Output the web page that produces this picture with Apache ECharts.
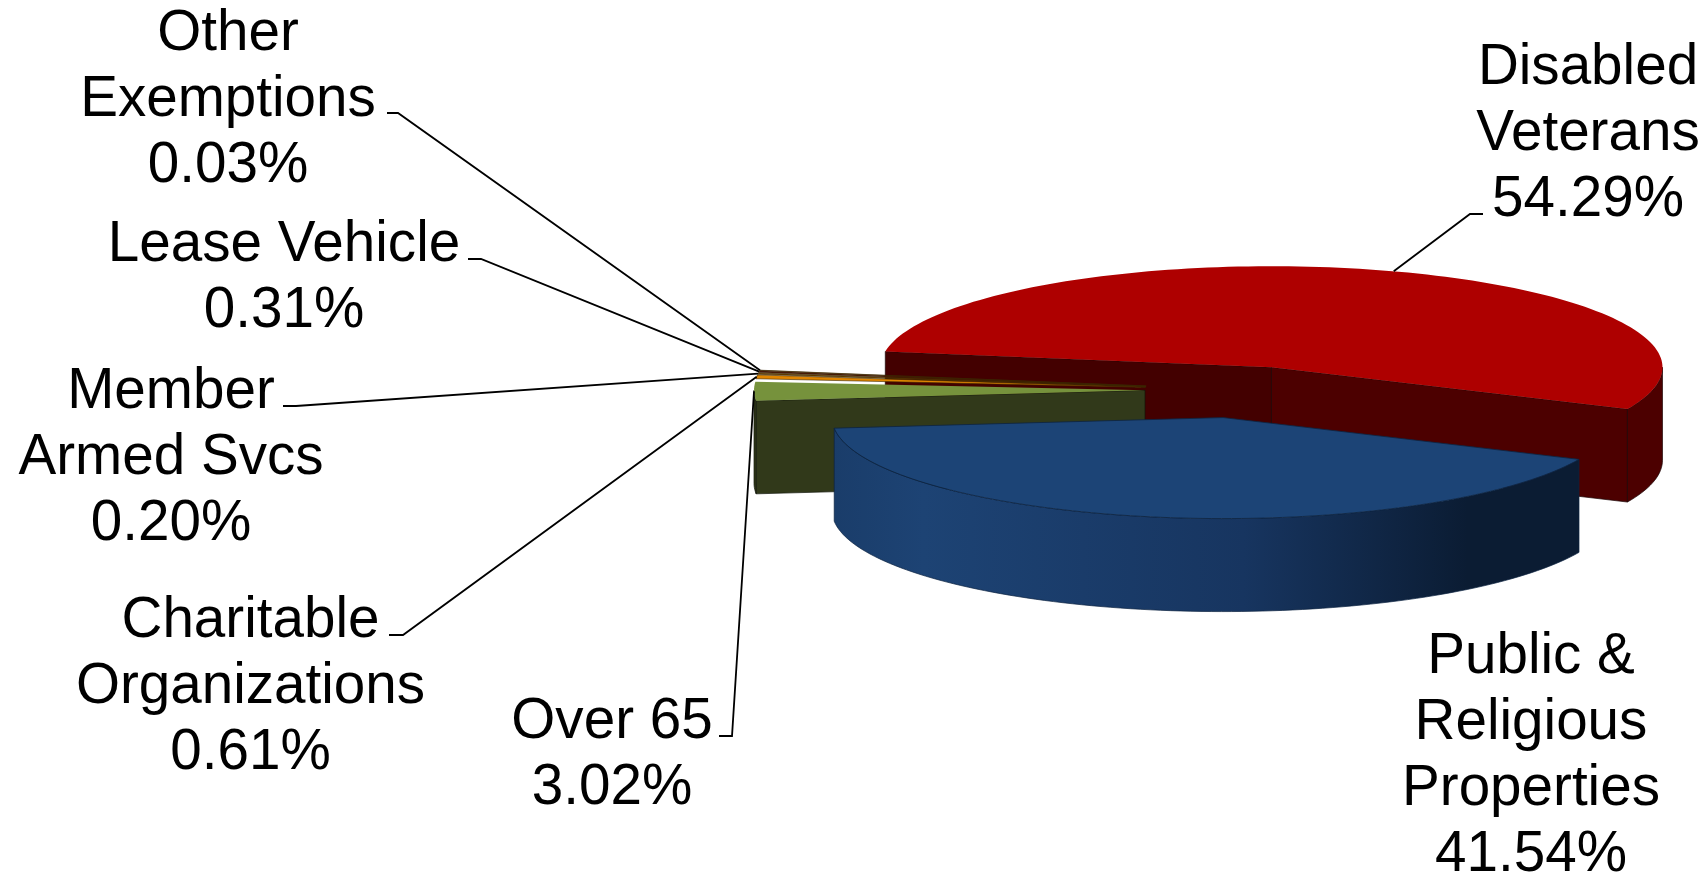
<!DOCTYPE html>
<html><head><meta charset="utf-8">
<style>html,body{margin:0;padding:0;background:#fff;overflow:hidden}#c{width:1708px;height:874px}</style>
<script src="https://cdn.jsdelivr.net/npm/echarts@6/dist/echarts.min.js"></script>
</head><body><div id="c"></div>
<script>
// --- data ---
var categories = ['Disabled\nVeterans', 'Public &\nReligious\nProperties', 'Over 65', 'Charitable\nOrganizations', 'Member\nArmed Svcs', 'Lease Vehicle', 'Other\nExemptions'];
var shares = [54.29, 41.54, 3.02, 0.61, 0.20, 0.31, 0.03];

// --- layout / style (not data) ---
var explode = [92, 109, 100, 100, 100, 100, 100];
var explodeTurn = [0, 2.4, 0, 0, 0, 0, 0];
var drawOrder = [0, 6, 5, 4, 3, 2, 1];
var topColors = ['#ae0000', '#1c4476', '#76923c', '#e08500', '#7a4a00', '#4a1608', '#0f5a1a'];
var startCutColors = ['#430000', '#0b1c33', '#31391a', '#5c3700', '#2c1c00', '#2a0d05', '#0f2d0d'];
var endCutColors = ['#4c0000', '#0b1c33', '#31391a', '#5c3700', '#2c1c00', '#2a0d05', '#0f2d0d'];
var labelX = [1588, 1531, 612, 250.5, 171, 284, 228];
var labelY = [134, 756, 755, 687, 458, 278, 100];
var elbowFrom = [[1483, 214], null, [719, 736], [389, 635], [283, 406], [468, 259], [387, 113]];
var elbowTo = [[1470, 214], null, [732, 736], [403, 635], [296, 406], [481, 259], [398, 113]];
var leaderTurn = [1.5, 0, 0, 0, 0, 0, 0];

var BASE_X = 1245, BASE_Y = 390, RX = 391, RY = 101, DEPTH = 93, START_DEG = -171;
var FONT = '56.6px "Liberation Sans", Arial, sans-serif';

var total = shares.reduce(function (a, b) { return a + b; }, 0);
var startDeg = [], endDeg = [];
shares.reduce(function (acc, v, i) {
  startDeg[i] = START_DEG + acc / total * 360;
  endDeg[i] = START_DEG + (acc + v) / total * 360;
  return acc + v;
}, 0);
function rad(d) { return d * Math.PI / 180; }
function apex(i) {
  var mid = rad((startDeg[i] + endDeg[i]) / 2 + explodeTurn[i]);
  return [BASE_X + explode[i] * Math.cos(mid), BASE_Y + explode[i] * Math.sin(mid) * RY / RX];
}
function rim(i, deg) {
  var a = apex(i);
  return [a[0] + RX * Math.cos(rad(deg)), a[1] + RY * Math.sin(rad(deg))];
}
function arcPts(i, from, to) {
  var n = Math.max(2, Math.ceil(Math.abs(to - from) / 1.5)), pts = [];
  for (var k = 0; k <= n; k++) pts.push(rim(i, from + (to - from) * k / n));
  return pts;
}
function down(p) { return [p[0], p[1] + DEPTH]; }
function poly(points, fill, stroke, lw, z2) {
  return { type: 'polygon', z2: z2, silent: true, shape: { points: points },
    style: { fill: fill, stroke: stroke, lineWidth: lw, lineJoin: 'round' } };
}
function sideFill(i) {
  if (i !== 1) return endCutColors[i];
  return new echarts.graphic.LinearGradient(0, 0, 1, 0, [
    { offset: 0, color: '#1a3d6a' }, { offset: 0.12, color: '#1d4374' },
    { offset: 0.55, color: '#173560' }, { offset: 0.85, color: '#0b1c33' }, { offset: 1, color: '#0b1c33' }
  ]);
}
function renderSlice(params, api) {
  var i = api.value(0);
  var a = apex(i), s = rim(i, startDeg[i]), e = rim(i, endDeg[i]);
  var base = params.dataIndex * 10 + 1;
  var kids = [];
  var edge = i === 0 ? '#1a0505' : (i === 1 ? '#0c2340' : '#11150a');
  var lw = i < 3 ? 0.7 : 0;
  // only the cut faces that turn towards the viewer are painted
  if (Math.cos(rad(startDeg[i])) < 0 && i < 3) kids.push(poly([a, s, down(s), down(a)], startCutColors[i], edge, lw, base));
  if (Math.cos(rad(endDeg[i])) > 0) kids.push(poly([a, e, down(e), down(a)], endCutColors[i], edge, lw, base));
  var from = Math.max(0, startDeg[i]), to = Math.min(180, endDeg[i]);
  if (to > from) {
    var front = arcPts(i, from, to);
    kids.push(poly(front.concat(front.slice().reverse().map(down)), sideFill(i), edge, lw, base + 1));
  }
  var topStroke = i === 1 ? '#0c2340' : (i > 2 ? '#3a2600' : 'none');
  var topWidth = i === 1 ? 0.8 : (i > 2 ? 0.6 : 0);
  kids.push(poly([a].concat(arcPts(i, startDeg[i], endDeg[i])), topColors[i], topStroke, topWidth, base + 2));
  return { type: 'group', children: kids };
}
function renderLabel(params, api) {
  var i = api.value(0), kids = [];
  if (elbowFrom[i]) {
    var mid = (startDeg[i] + endDeg[i]) / 2 + leaderTurn[i];
    kids.push({ type: 'polyline', silent: true, shape: { points: [elbowFrom[i], elbowTo[i], rim(i, mid)] },
      style: { fill: 'none', stroke: '#000', lineWidth: 1.8 } });
  }
  kids.push({ type: 'text', silent: true, style: {
    text: categories[i] + '\n' + shares[i].toFixed(2) + '%',
    x: labelX[i], y: labelY[i], align: 'center', verticalAlign: 'middle',
    font: FONT, lineHeight: 66, fill: '#000' } });
  return { type: 'group', children: kids };
}
var chart = echarts.init(document.getElementById('c'), null, { renderer: 'canvas' });
chart.setOption({
  animation: false, backgroundColor: '#fff',
  series: [
    { type: 'custom', coordinateSystem: 'none', renderItem: renderSlice, silent: true,
      data: drawOrder.map(function (i) { return [i, shares[i]]; }) },
    { type: 'custom', coordinateSystem: 'none', renderItem: renderLabel, silent: true, z: 5,
      data: categories.map(function (c, i) { return [i, shares[i]]; }) }
  ]
});
</script></body></html>
